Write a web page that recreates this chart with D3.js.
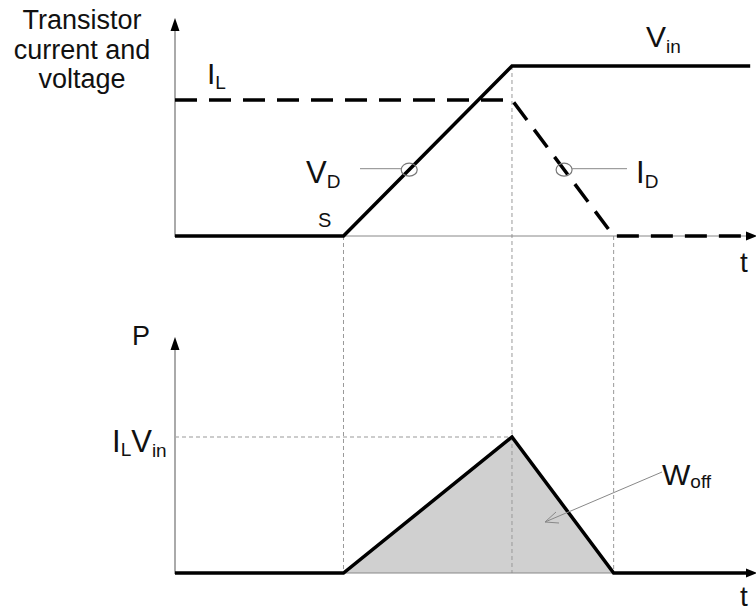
<!DOCTYPE html>
<html>
    <head>
        <meta charset="UTF-8">
        <script src="https://d3js.org/d3.v7.min.js"></script>
        <style>
            body { margin: 0; background: white; }
            svg { display: block; font-family: Arial, "Liberation Sans", sans-serif; }
            .axis { stroke: #aaa; stroke-width: 2px; fill: none; }
            .haxis { stroke: #888; stroke-width: 1px; fill: none; }
            .trace { stroke: black; stroke-width: 3.5px; fill: none; stroke-linejoin: miter; }
            .dashed { stroke-dasharray: 22, 12; }
            .guide { stroke: #999; stroke-width: 1px; stroke-dasharray: 4, 3; fill: none; }
            .leader { stroke: #888; stroke-width: 1px; fill: none; }
            .label { font-size: 30px; fill: #111; }
            .sub { font-size: 19px; }
        </style>
    </head>
    <body>
        <svg></svg>
        <script>
            // switching instants (arbitrary time units)
            const tStart = 2.9, tVolt = 5.8, tOff = 7.55, tEnd = 9.9;

            // transistor voltage V_D (normalised to V_in) and current I_D (normalised to V_in scale)
            const vdTimes = [0, tStart, tVolt, tEnd];
            const vdValues = [0, 0, 1, 1];
            const idTimes = [0, tVolt, tOff, 9.75];
            const idValues = [0.8, 0.8, 0, 0];

            // power loss P (normalised to I_L*V_in)
            const pTimes = [0, tStart, tVolt, tOff, tEnd];
            const pValues = [0, 0, 1, 0, 0];

            const switchTimes = [tStart, tVolt, tOff];

            const width = 756, height = 611;
            const svg = d3.select("svg").attr("width", width).attr("height", height);

            const x = d3.scaleLinear().domain([0, 10]).range([175, 756]);
            const yTop = d3.scaleLinear().domain([0, 1]).range([236, 66]);
            const yBot = d3.scaleLinear().domain([0, 1]).range([573, 437]);

            const zip = (ts, vs) => ts.map((t, i) => [t, vs[i]]);
            const vd = zip(vdTimes, vdValues);
            const id = zip(idTimes, idValues);
            const pw = zip(pTimes, pValues);

            const lineTop = d3.line().x(d => x(d[0])).y(d => yTop(d[1]));
            const lineBot = d3.line().x(d => x(d[0])).y(d => yBot(d[1]));

            // shaded switching loss
            svg.append("path")
                .datum(pw)
                .attr("d", d3.area().x(d => x(d[0])).y0(yBot(0)).y1(d => yBot(d[1])))
                .attr("fill", "#d0d0d0");

            // dotted guides
            svg.selectAll(".vguide")
                .data(switchTimes)
                .join("line")
                    .attr("class", "guide")
                    .attr("x1", d => x(d)).attr("x2", d => x(d))
                    .attr("y1", d => d === tVolt ? yTop(1) : yTop(0))
                    .attr("y2", yBot(0));

            svg.append("line")
                .attr("class", "guide")
                .attr("x1", x(0)).attr("x2", x(tVolt))
                .attr("y1", yBot(1)).attr("y2", yBot(1));

            // axes with arrows
            function arrowUp(cx, tip) {
                return `M${cx},${tip}L${cx - 4.5},${tip + 13}L${cx + 4.5},${tip + 13}Z`;
            }
            function arrowRight(tip, cy) {
                return `M${tip},${cy}L${tip - 11},${cy - 4.5}L${tip - 11},${cy + 4.5}Z`;
            }

            [[yTop(0), 18], [yBot(0), 337]].forEach(([base, tip]) => {
                svg.append("line").attr("class", "axis")
                    .attr("x1", x(0)).attr("x2", x(0))
                    .attr("y1", base + 1).attr("y2", tip + 8);
                svg.append("path").attr("d", arrowUp(x(0), tip)).attr("fill", "black");
                svg.append("line").attr("class", "haxis")
                    .attr("x1", x(0)).attr("x2", 750)
                    .attr("y1", base).attr("y2", base);
                svg.append("path").attr("d", arrowRight(757, base)).attr("fill", "black");
            });

            // traces
            svg.append("path").datum(vd).attr("class", "trace").attr("d", lineTop);
            svg.append("path").datum(id).attr("class", "trace dashed").attr("d", lineTop);
            svg.append("path").datum(pw).attr("class", "trace").attr("d", lineBot);

            // markers on the traces
            const markV = 0.39;
            const tMarkV = tStart + markV * (tVolt - tStart);
            const tMarkI = tVolt + (0.8 - markV) / 0.8 * (tOff - tVolt);
            svg.append("ellipse").attr("cx", x(tMarkV)).attr("cy", yTop(markV))
                .attr("rx", 8).attr("ry", 6.5).attr("fill", "none").attr("stroke", "#777").attr("stroke-width", 1.2);
            svg.append("ellipse").attr("cx", x(tMarkI)).attr("cy", yTop(markV))
                .attr("rx", 8).attr("ry", 6.5).attr("fill", "none").attr("stroke", "#777").attr("stroke-width", 1.2);
            svg.append("line").attr("class", "leader")
                .attr("x1", 360).attr("x2", x(tMarkV) - 8)
                .attr("y1", yTop(markV) - 1).attr("y2", yTop(markV) - 1);
            svg.append("line").attr("class", "leader")
                .attr("x1", x(tMarkI) + 8).attr("x2", 627)
                .attr("y1", yTop(markV) - 1).attr("y2", yTop(markV) - 1);

            // W_off pointer
            svg.append("line").attr("class", "leader")
                .attr("x1", 662).attr("y1", 472).attr("x2", 545).attr("y2", 522);
            svg.append("path").attr("class", "leader")
                .attr("d", "M556,512L545,522L559,523");

            // labels
            function label(px, py, main, sub, size, subSize, dy) {
                const t = svg.append("text").attr("class", "label")
                    .attr("x", px).attr("y", py)
                    .style("font-size", size + "px");
                t.append("tspan").text(main);
                if (sub) {
                    t.append("tspan").attr("dy", dy).style("font-size", subSize + "px").text(sub);
                }
                return t;
            }

            svg.append("text")
                .attr("text-anchor", "middle")
                .style("font-size", "27px")
                .attr("fill", "#111")
                .selectAll("tspan")
                .data(["Transistor", "current and", "voltage"])
                .join("tspan")
                    .attr("x", 82)
                    .attr("y", (d, i) => 29 + i * 29.5)
                    .text(d => d);

            label(207, 84, "I", "L", 30, 19, 5);
            label(646, 47, "V", "in", 30, 19, 6);
            label(306, 183, "V", "D", 31, 19, 5);
            label(636, 183, "I", "D", 31, 19, 5);
            label(318, 227, "S", null, 20);
            label(740, 272, "t", null, 28);
            label(132, 345, "P", null, 27);
            label(112, 452, "I", "L", 31, 19, 4);
            svg.select("text:last-of-type").append("tspan").attr("dy", -4).text("V");
            svg.select("text:last-of-type").append("tspan").attr("dy", 5).style("font-size", "19px").text("in");
            label(662, 485, "W", "off", 30, 19, 3);
            label(740, 606, "t", null, 28);
        </script>
    </body>
</html>
